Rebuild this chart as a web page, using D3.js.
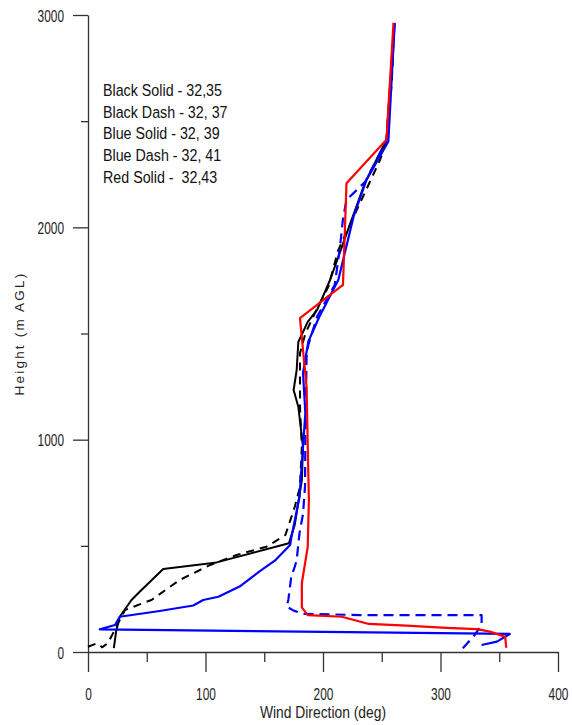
<!DOCTYPE html>
<html>
<head>
<meta charset="utf-8">
<script src="https://cdn.jsdelivr.net/npm/d3@7/dist/d3.min.js"></script>
<style>
  body { margin: 0; background: #fff; }
  svg { display: block; font-family: "Liberation Sans", Arial, sans-serif; }
</style>
</head>
<body>
<svg id="chart"></svg>
<script>
// wind direction (deg) vs height (m AGL) for each run
const blackSolidDir = [22, 24, 27, 37, 44, 64, 109.5, 171, 176, 182, 183, 179, 175, 177.6, 179, 187, 195, 206, 222, 236, 254, 260.7];
const blackSolidHgt = [18, 100, 166, 245, 284, 391, 422, 512, 600, 810, 965, 1155, 1234, 1328, 1460, 1555, 1611, 1752, 2000, 2214, 2412, 2963];

const blackDashDir = [0, 8, 12, 17, 22, 31.5, 54, 78, 104, 126.5, 152, 168, 176, 180.4, 182, 180.4, 180.4, 180.4, 185, 193, 204.5, 213, 234, 248.5, 254, 258.5, 260.7];
const blackDashHgt = [25, 42, 22, 42, 96, 198, 245, 339, 410, 457, 496, 551, 684, 778, 967, 1155, 1250, 1407, 1500, 1595, 1720, 1893, 2144, 2317, 2404, 2679, 2961];

const blueSolidDir = [335, 348, 359, 10, 23, 27, 61, 89.6, 98, 111, 129, 146, 159, 172, 173, 180, 185, 183, 187.5, 197, 213, 226, 237, 255.6, 261];
const blueSolidHgt = [33, 49, 85, 107, 127, 166, 193, 219, 245, 260, 308, 380, 430, 504, 537, 731, 1126, 1314, 1462, 1580, 1752, 2050, 2223, 2404, 2961];

const blueDashDir = [319, 328, 335, 335, 231.5, 183, 175, 169, 170.5, 173, 176, 177.6, 180, 183, 184.7, 185, 186, 187.5, 195, 210, 214.5, 217, 220, 236, 254, 261];
const blueDashHgt = [18, 72, 127, 174, 174, 180, 195, 214, 245, 355, 402, 433, 560, 650, 780, 1000, 1391, 1446, 1580, 1729, 1909, 2040, 2129, 2215, 2410, 2961];

const redSolidDir = [356, 355, 342, 331, 305, 271, 239, 216, 187, 182, 182, 187, 188, 187.5, 186, 180.4, 217, 220, 254, 260];
const redSolidHgt = [20, 72, 96, 108, 114, 124, 132, 166, 174, 210, 325, 495, 720, 843, 1250, 1572, 1729, 2208, 2412, 2963];

const xMajor = [0, 100, 200, 300, 400];
const xMinor = [50, 150, 250, 350];
const yMajor = [0, 1000, 2000, 3000];
const yMinor = [500, 1500, 2500];

const legendLines = [
  "Black Solid - 32,35",
  "Black Dash - 32, 37",
  "Blue Solid - 32, 39",
  "Blue Dash - 32, 41",
  "Red Solid -  32,43"
];

const w = 572;
const h = 725;
const margin = { top: 15, right: 14, bottom: 73, left: 88 };

const svg = d3.select("#chart").attr("width", w).attr("height", h);

const xScale = d3.scaleLinear().domain([0, 400]).range([margin.left, w - margin.right]);
const yScale = d3.scaleLinear().domain([0, 3000]).range([h - margin.bottom, margin.top]);

const axisColor = "#333";
const tickSx = 0.7;   // the original font is squeezed sideways
const textSx = 0.84;

// x axis
const xAxis = svg.append("g")
  .attr("transform", `translate(0, ${yScale(0)})`)
  .call(d3.axisBottom(xScale).tickValues(xMajor).tickSize(20).tickSizeOuter(0).tickFormat(d3.format("d")));
xAxis.selectAll("text")
  .attr("y", 48).attr("dy", 0)
  .attr("transform", `scale(${tickSx},1)`)
  .style("font-size", "17px").attr("fill", "#222");
svg.append("g")
  .attr("transform", `translate(0, ${yScale(0)})`)
  .call(d3.axisBottom(xScale).tickValues(xMinor).tickSize(10).tickFormat(""))
  .select(".domain").remove();

// y axis
const yAxis = svg.append("g")
  .attr("transform", `translate(${xScale(0)}, 0)`)
  .call(d3.axisLeft(yScale).tickValues(yMajor).tickSize(15).tickSizeOuter(0).tickFormat(d3.format("d")));
yAxis.selectAll("text")
  .attr("x", -24 / tickSx).attr("dy", 6)
  .attr("transform", `scale(${tickSx},1)`)
  .style("font-size", "17px").attr("fill", "#222");
svg.append("g")
  .attr("transform", `translate(${xScale(0)}, 0)`)
  .call(d3.axisLeft(yScale).tickValues(yMinor).tickSize(7).tickFormat(""))
  .select(".domain").remove();

svg.selectAll(".domain, .tick line").attr("stroke", axisColor).attr("stroke-width", 1.3);

// axis titles
svg.append("text")
  .attr("transform", `scale(${textSx},1)`)
  .attr("x", (xScale(0) + xScale(400)) / 2 / textSx)
  .attr("y", 718)
  .attr("text-anchor", "middle")
  .style("font-size", "16.5px")
  .attr("fill", "#222")
  .text("Wind Direction (deg)");

svg.append("text")
  .attr("transform", `translate(24, ${(yScale(0) + yScale(3000)) / 2}) rotate(-90)`)
  .attr("text-anchor", "middle")
  .style("font-size", "13.5px")
  .style("letter-spacing", "2.2px")
  .attr("fill", "#222")
  .text("Height (m AGL)");

// profiles
const series = [
  { dir: blackSolidDir, hgt: blackSolidHgt, color: "#000", dash: null, width: 2 },
  { dir: blackDashDir, hgt: blackDashHgt, color: "#000", dash: "8,6", width: 2 },
  { dir: blueSolidDir, hgt: blueSolidHgt, color: "#0000ff", dash: null, width: 2.2 },
  { dir: blueDashDir, hgt: blueDashHgt, color: "#0000ff", dash: "10,6", width: 2.2 },
  { dir: redSolidDir, hgt: redSolidHgt, color: "#ff0000", dash: null, width: 2.2 }
];

const line = d3.line()
  .x((d) => xScale(d[0]))
  .y((d) => yScale(d[1]));

series.forEach((s) => {
  svg.append("path")
    .datum(s.dir.map((d, i) => [d, s.hgt[i]]))
    .attr("fill", "none")
    .attr("stroke", s.color)
    .attr("stroke-width", s.width)
    .attr("stroke-linejoin", "round")
    .attr("stroke-dasharray", s.dash)
    .attr("d", line);
});

// legend text
svg.append("g")
  .attr("transform", `scale(${textSx},1)`)
  .selectAll("text")
  .data(legendLines)
  .enter()
  .append("text")
  .attr("x", 103 / textSx)
  .attr("y", (d, i) => 96 + i * 21.7)
  .style("font-size", "17px")
  .style("white-space", "pre")
  .attr("fill", "#111")
  .text((d) => d);
</script>
</body>
</html>
